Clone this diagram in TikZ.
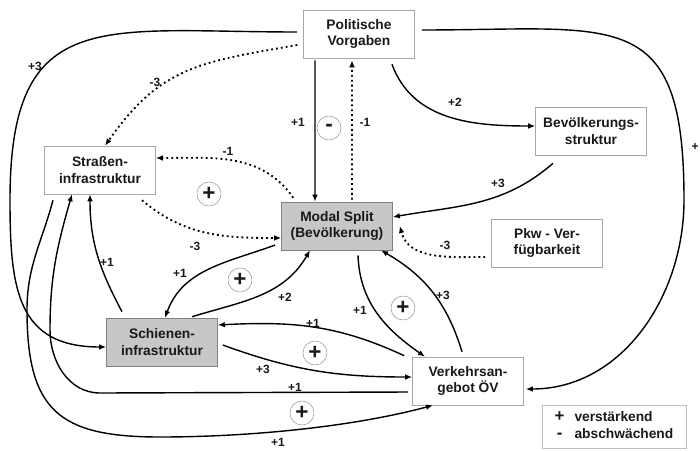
\documentclass[tikz,border=0pt]{standalone}
\usepackage{fontspec}
\setmainfont{Liberation Sans}
\usetikzlibrary{positioning,arrows.meta}

\begin{document}
\begin{tikzpicture}
[x=0.25mm,y=-0.25mm,
 every node/.style={text=black!90,font=\fontsize{9.8}{11.9}\selectfont\bfseries},
 box/.style={rectangle,draw=black!35,thin,minimum width=27.75mm,minimum height=12mm,inner sep=0mm,align=center},
 hl/.style={box,draw=black!50,fill=black!22},
 sign/.style={circle,draw=black!40,thin,minimum size=6mm,inner sep=0mm,font=\fontsize{16}{16}\selectfont\bfseries},
 lbl/.style={inner sep=0mm,font=\fontsize{8.5}{8.5}\selectfont\bfseries},
 solidarr/.style={-{Latex[length=5pt,width=4pt]},line width=1pt},
 dotarr/.style={solidarr,line width=1.3pt,dash pattern=on 1.3pt off 2.2pt}]
\useasboundingbox (0,0) rectangle (700,450);

\node[box] (pol) at (359,34)                                   {Politische\\Vorgaben};
\node[box] (str) [on grid,below  left=34mm and 64.75mm of pol]  {Straßen-\\infrastruktur};
\node[hl]  (mod) [on grid,below  left=48mm and 5.5mm of pol]    {Modal Split\\(Bevölkerung)};
\node[box] (bev) [on grid,below right=24.25mm and 58mm of pol]  {Bevölkerungs-\\struktur};
\node[box] (pkw) [on grid,below right=52.25mm and 47mm of pol]  {Pkw - Ver-\\fügbarkeit};
\node[hl]  (sch) [on grid,below  left=77mm and 49.25mm of pol]  {Schienen-\\infrastruktur};
\node[box] (vkr) [on grid,below right=86.75mm and 27.25mm of pol] {Verkehrsan-\\gebot ÖV};
\node[box,draw=black!25,minimum width=36mm,minimum height=10.75mm] (leg) [on grid,below right=98.25mm and 63.75mm of pol]
  {\begin{tabular}{@{}c@{\hspace{2.5mm}}l@{}}
   {\fontsize{12}{12}\selectfont +} & verstärkend\\
   {\fontsize{12}{12}\selectfont -} & abschwächend
   \end{tabular}};

\path[solidarr] ([xshift=-11mm,yshift=-0.5mm]pol.south)   edge ([xshift=-5.5mm]mod.north);
\path[dotarr]   ([xshift=3.75mm,yshift=0.5mm]mod.north)   edge ([xshift=-1.75mm,yshift=-0.5mm]pol.south);
\path[dotarr]   ([xshift=-1.5mm,yshift=-2.75mm]pol.west)  edge[out=190,in=55,looseness=1.15] ([xshift=1.25mm]str.north);
\path[dotarr]   ([xshift=3mm,yshift=1mm]mod.north west)   edge[out=125,in=0]   ([yshift=3mm]str.east);
\path[dotarr]   ([xshift=10.5mm,yshift=-1.5mm]str.south)  edge[out=-40,in=180] ([yshift=-3mm]mod.west);
\path[solidarr] ([xshift=8.25mm,yshift=-1.5mm]pol.south)  edge[out=-70,in=180] ([yshift=1.25mm]bev.west);
\path[solidarr] ([xshift=-9.5mm,yshift=-2mm]bev.south)    edge[out=221,in=10]  ([yshift=2.25mm]mod.east);
\path[dotarr]   ([xshift=-1.5mm,yshift=-3.5mm]pkw.west)   edge[out=180,in=-75] ([xshift=1.75mm]mod.east);
\path[solidarr] ([xshift=-10mm,yshift=1.5mm]sch.north)    edge[out=118,in=-90] ([xshift=-2.5mm]str.south);
\path[solidarr] ([xshift=-1.5mm,yshift=-4.75mm]mod.west)  edge[out=200,in=70]  ([xshift=0.75mm]sch.north);
\path[solidarr] ([xshift=7.5mm,yshift=0.25mm]sch.north)   edge[out=17,in=240]  ([xshift=-6.75mm]mod.south);
\path[solidarr] ([xshift=5.25mm,yshift=-1.25mm]mod.south) edge[out=-88,in=145] ([xshift=-10.75mm]vkr.north);
\path[solidarr] ([xshift=-1.5mm,yshift=1.25mm]vkr.north)  edge[out=107,in=-30] ([xshift=11mm]mod.south);
\path[solidarr] ([xshift=-2mm,yshift=0.25mm]vkr.north west) edge[out=155,in=3] ([yshift=4.25mm]sch.east);
\path[solidarr] ([xshift=1.25mm,yshift=-0.75mm]sch.east)  edge[out=-20,in=180] ([yshift=1mm]vkr.west);

% long loops round the outside
\coordinate (rgt) at (684,200);
\coordinate (lft) at (10,200);
\coordinate (bl1) at (27,310);
\coordinate (bl2) at (160,437);
\coordinate (br1) at (100,393);
\coordinate (br2) at (50,330);
\draw[solidarr] ([xshift=1.75mm,yshift=1mm]pol.east) to[out=0,in=90,looseness=1.6] (rgt)
  to[out=-90,in=0] ([xshift=0.5mm,yshift=-2mm]vkr.east);
\draw[solidarr] ([xshift=-1.5mm,yshift=0.5mm]pol.west) to[out=180,in=90,looseness=1.5] (lft)
  to[out=-90,in=180,looseness=1.3] ([yshift=-1.25mm]sch.west);
\draw[solidarr] ([xshift=-11.75mm,yshift=-1.5mm]str.south) to[out=255,in=90] (bl1)
  to[out=-90,in=180,looseness=1.4] (bl2) to[out=0,in=195,looseness=0.8] ([xshift=-8.75mm]vkr.south);
\draw[solidarr] ([xshift=-1mm,yshift=-2.75mm]vkr.west) -- (br1)
  to[out=180,in=-90] (br2) to[out=90,in=254] ([xshift=-7mm]str.south);

\node[sign] (s1) at (209,194) {+};
\node[sign] (s2) at (329,128) {-};
\node[sign] (s3) at (240,280) {+};
\node[sign] (s4) at (403,308) {+};
\node[sign] (s5) at (315,353) {+};
\node[sign] (s6) at (302,413) {+};

\node[lbl] (wPolMod) at (298,122) {+1};
\node[lbl] (wModPol) at (365,122) {-1};
\node[lbl] (wPolStr) at (155,82)  {-3};
\node[lbl] (wModStr) at (228,151) {-1};
\node[lbl] (wStrMod) at (195,246) {-3};
\node[lbl] (wPolBev) at (455,102) {+2};
\node[lbl] (wBevMod) at (498,183) {+3};
\node[lbl] (wPkwMod) at (445,245) {-3};
\node[lbl] (wPolVkr) at (695,147) {+};
\node[lbl] (wPolSch) at (35,66)   {+3};
\node[lbl] (wSchStr) at (107,262) {+1};
\node[lbl] (wModSch) at (180,273) {+1};
\node[lbl] (wSchMod) at (285,297) {+2};
\node[lbl] (wModVkr) at (360,310) {+1};
\node[lbl] (wVkrMod) at (443,295) {+3};
\node[lbl] (wVkrSch) at (313,323) {+1};
\node[lbl] (wSchVkr) at (263,369) {+3};
\node[lbl] (wVkrStr) at (295,387) {+1};
\node[lbl] (wStrVkr) at (278,442) {+1};
\end{tikzpicture}
\end{document}
